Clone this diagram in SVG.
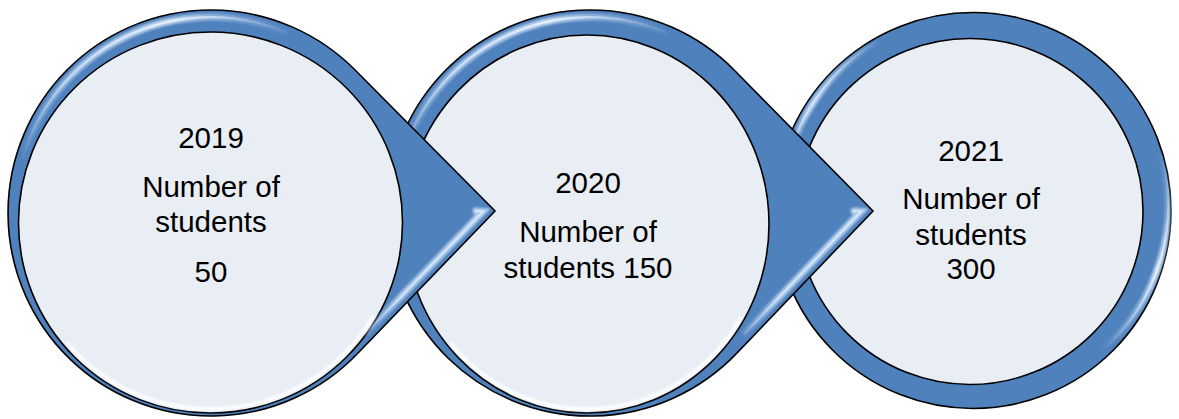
<svg xmlns="http://www.w3.org/2000/svg" width="1179" height="419" viewBox="0 0 1179 419">
  <defs>
    <style>
      .ring { fill: #4F81BD; stroke: none; }
      .ring-edge { fill: none; stroke: #000; stroke-width: 1.6; }
      .inner { fill: #E9EDF4; stroke: #000; stroke-width: 1.6; }
      .pointer { fill: #4F81BD; stroke: none; }
      .pointer-edge { fill: none; stroke: #000; stroke-width: 1.6; stroke-linejoin: miter; }
      .hl-soft { fill: none; stroke-width: 7; stroke-linecap: round; filter: url(#soft); opacity: 0.75; }
      .hl-line { fill: none; stroke-width: 2.2; stroke-linecap: round; }
      .rim { fill: none; stroke: #FFFFFF; stroke-width: 3.5; opacity: 0.95; filter: url(#soft); }
      .label { font-family: "Liberation Sans", Arial, sans-serif; font-size: 29.5px; fill: #000; text-anchor: middle; }
    </style>
    <filter id="soft" x="-10%" y="-10%" width="120%" height="120%">
      <feGaussianBlur stdDeviation="1"/>
    </filter>
    <linearGradient id="hl1" gradientUnits="userSpaceOnUse" x1="21" y1="162" x2="290" y2="25">
      <stop offset="0" stop-color="#D3E6FB" stop-opacity="0"/>
      <stop offset="0.3" stop-color="#D3E6FB" stop-opacity="0.8"/>
      <stop offset="0.65" stop-color="#E4F0FD" stop-opacity="1"/>
      <stop offset="1" stop-color="#D3E6FB" stop-opacity="0"/>
    </linearGradient>
    <linearGradient id="hl2" gradientUnits="userSpaceOnUse" x1="400" y1="162" x2="669" y2="25">
      <stop offset="0" stop-color="#D3E6FB" stop-opacity="0"/>
      <stop offset="0.3" stop-color="#D3E6FB" stop-opacity="0.8"/>
      <stop offset="0.65" stop-color="#E4F0FD" stop-opacity="1"/>
      <stop offset="1" stop-color="#D3E6FB" stop-opacity="0"/>
    </linearGradient>
    <linearGradient id="hl3a" gradientUnits="userSpaceOnUse" x1="785" y1="177" x2="880" y2="40">
      <stop offset="0" stop-color="#D3E6FB" stop-opacity="0"/>
      <stop offset="0.45" stop-color="#D3E6FB" stop-opacity="1"/>
      <stop offset="1" stop-color="#D3E6FB" stop-opacity="0"/>
    </linearGradient>
    <linearGradient id="hl3b" gradientUnits="userSpaceOnUse" x1="1157" y1="150" x2="1100" y2="350">
      <stop offset="0" stop-color="#D3E6FB" stop-opacity="0"/>
      <stop offset="0.55" stop-color="#E4F0FD" stop-opacity="1"/>
      <stop offset="1" stop-color="#D3E6FB" stop-opacity="0"/>
    </linearGradient>
    <linearGradient id="hlp1" gradientUnits="userSpaceOnUse" x1="483" y1="211" x2="366" y2="333">
      <stop offset="0" stop-color="#D3E6FB" stop-opacity="1"/>
      <stop offset="0.7" stop-color="#D3E6FB" stop-opacity="0.9"/>
      <stop offset="1" stop-color="#D3E6FB" stop-opacity="0.2"/>
    </linearGradient>
    <linearGradient id="hlp2" gradientUnits="userSpaceOnUse" x1="861" y1="211" x2="745" y2="333">
      <stop offset="0" stop-color="#D3E6FB" stop-opacity="1"/>
      <stop offset="0.7" stop-color="#D3E6FB" stop-opacity="0.9"/>
      <stop offset="1" stop-color="#D3E6FB" stop-opacity="0.2"/>
    </linearGradient>
  </defs>

  <g id="node-2021">
    <circle class="ring" cx="973" cy="210.5" r="198"/>
    <circle class="ring-edge" cx="973" cy="210.5" r="198"/>
    <path class="hl-soft" stroke="url(#hl3a)" d="M 784.9 177.3 A 191 191 0 0 1 880 40"/>
    <path class="hl-line" stroke="url(#hl3a)" d="M 784.9 177.3 A 191 191 0 0 1 880 40"/>
    <path class="hl-soft" stroke="url(#hl3b)" d="M 1160 150 A 191 191 0 0 1 1100 352"/>
    <path class="hl-line" stroke="url(#hl3b)" d="M 1160 150 A 191 191 0 0 1 1100 352"/>
    <circle class="inner" cx="970" cy="211.5" r="173"/>
    <text class="label" x="971" y="161">2021</text>
    <text class="label" x="971" y="209">Number of</text>
    <text class="label" x="971" y="245">students</text>
    <text class="label" x="971" y="279">300</text>
  </g>

  <g id="node-2020">
    <circle class="ring" cx="590" cy="213" r="203"/>
    <path class="ring-edge" d="M 734.6 70.5 A 203 203 0 1 0 736.6 353.4"/>
    <path class="hl-soft" stroke="url(#hl2)" d="M 400.7 162.3 A 196 196 0 0 1 665 32"/>
    <path class="hl-line" stroke="url(#hl2)" d="M 400.7 162.3 A 196 196 0 0 1 665 32"/>
    <ellipse class="inner" cx="587" cy="224" rx="182" ry="189"/>
    <path class="rim" d="M 741.2 316.5 A 178 185 0 0 1 450.6 342.9"/>
    <text class="label" x="588" y="193">2020</text>
    <text class="label" x="588" y="242">Number of</text>
    <text class="label" x="588" y="278">students 150</text>
  </g>

  <g id="node-2019">
    <circle class="ring" cx="211" cy="213" r="203"/>
    <path class="ring-edge" d="M 355.1 70 A 203 203 0 1 0 357.1 354"/>
    <path class="hl-soft" stroke="url(#hl1)" d="M 21.7 162.3 A 196 196 0 0 1 286 32"/>
    <path class="hl-line" stroke="url(#hl1)" d="M 21.7 162.3 A 196 196 0 0 1 286 32"/>
    <ellipse class="inner" cx="210.5" cy="222.5" rx="192" ry="190.5"/>
    <path class="rim" d="M 373.3 315.8 A 188 186.5 0 0 1 66.5 342.4"/>
    <text class="label" x="211" y="148">2019</text>
    <text class="label" x="211" y="197">Number of</text>
    <text class="label" x="211" y="232">students</text>
    <text class="label" x="211" y="282">50</text>
  </g>

  <g id="connectors">
    <path class="pointer" d="M 355.1 70 L 495 211 L 357.1 354 L 354.9 351.9 A 200 200 0 0 0 353 72.1 Z"/>
    <path class="hl-soft" stroke="url(#hlp1)" d="M 476 211 L 483 211.5 L 366 333"/>
    <path class="hl-line" stroke="url(#hlp1)" d="M 476 211 L 483 211.5 L 366 333"/>
    <path class="pointer-edge" d="M 355.1 70 L 495 211 L 357.1 354"/>

    <path class="pointer" d="M 734.6 70.5 L 873 211 L 736.6 353.4 L 734.4 351.3 A 200 200 0 0 0 732.5 72.6 Z"/>
    <path class="hl-soft" stroke="url(#hlp2)" d="M 854 211 L 861 211.5 L 745 333"/>
    <path class="hl-line" stroke="url(#hlp2)" d="M 854 211 L 861 211.5 L 745 333"/>
    <path class="pointer-edge" d="M 734.6 70.5 L 873 211 L 736.6 353.4"/>
  </g>
</svg>
